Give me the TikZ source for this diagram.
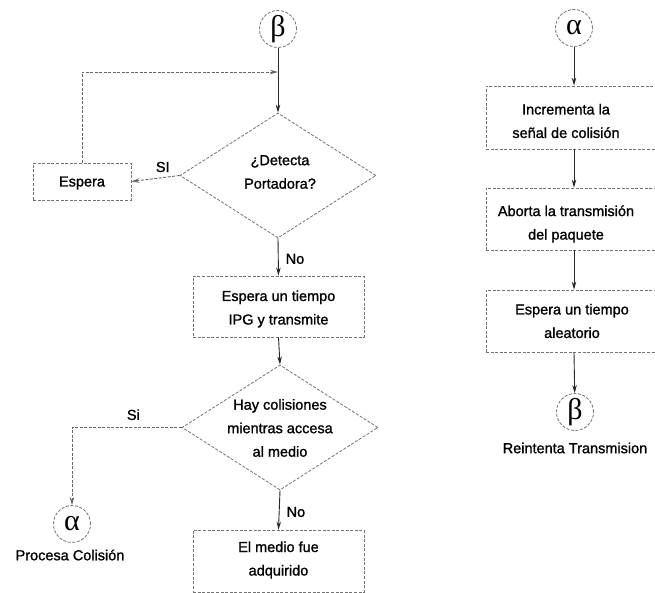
\documentclass[tikz,border=0pt]{standalone}
\usepackage{fontspec}
\setmainfont{Liberation Sans}[FakeBold=1.2]
\newfontfamily\greekfont{Liberation Serif}
\usetikzlibrary{shapes.geometric,arrows.meta}

\tikzset{
  outline/.style={draw=black!55, line width=0.8pt, dash pattern=on 3pt off 1.6pt},
  procbox/.style={outline, rectangle, inner sep=0pt, align=center},
  decision/.style={outline, diamond, inner sep=0pt},
  connector/.style={outline, circle, minimum size=37pt, inner sep=0pt,
    font=\greekfont\fontsize{30}{30}\selectfont},
  txt/.style={font=\fontsize{14.5}{23.5}\selectfont, align=center, inner sep=0pt},
  flow/.style={draw=black!85, line width=0.9pt,
    -{Stealth[length=8pt,width=4.5pt]}},
  flowh/.style={flow, draw=black!60, dash pattern=on 3pt off 1.5pt},
  lbl/.style={font=\fontsize{14.5}{16}\selectfont, inner sep=0pt}
}

\begin{document}
\begin{tikzpicture}[x=1pt, y=-1pt]
  \useasboundingbox (0,0) rectangle (655,593);
  \clip (0,0) rectangle (655,593);

  % ---------- left flow: carrier sensing and transmission ----------
  \node[connector] (beta1) at (278,29) {β};
  \coordinate (join) at (278,72);

  \node[decision, minimum width=196pt, minimum height=125pt] (d1) at (278,175.5) {};
  \node[txt] (d1txt) at (280,172) {¿Detecta\\Portadora?};

  \node[procbox, minimum width=98pt, minimum height=37pt] (espera) at (82,181.5) {};
  \node[txt] (esperatxt) at (82,183) {Espera};

  \node[procbox, minimum width=171pt, minimum height=61pt] (tx) at (278.5,306.5) {};
  \node[txt] (txtxt) at (278.5,309) {Espera un tiempo\\IPG y transmite};

  \node[decision, minimum width=196pt, minimum height=125pt] (d2) at (280,427.5) {};
  \node[txt] (d2txt) at (280,428) {Hay colisiones\\mientras accesa\\al medio};

  \node[procbox, minimum width=171pt, minimum height=62pt] (ok) at (278.5,561) {};
  \node[txt] (oktxt) at (278.5,560) {El medio fue\\adquirido};

  \node[connector] (alpha1) at (72,524) {α};
  \node[lbl] (alpha1txt) at (70,555) {Procesa Colisión};

  % connectors of the left flow
  \draw[flow] (beta1) -- (d1.north);
  \draw[flowh] (espera.north) |- (join);
  \draw[flowh] (d1.west) -- (espera.east)
    node[lbl, pos=0.35, above=5pt] (si1) {SI};
  \draw[flow] (d1.south) -- (tx.north)
    node[lbl, pos=0.55, right=7pt] (no1) {No};
  \draw[flow] (tx.south) -- (d2.north);
  \draw[flowh] (d2.west) -| (alpha1.north)
    node[lbl, pos=0.22, above=7pt] (si2) {Si};
  \draw[flow] (d2.south) -- (ok.north)
    node[lbl, pos=0.55, right=7pt] (no2) {No};

  % ---------- right flow: collision handling ----------
  \node[connector] (alpha2) at (574,28) {α};

  \node[procbox, minimum width=174pt, minimum height=63pt] (inc) at (573,117.5) {};
  \node[txt] (inctxt) at (566,121) {Incrementa la\\señal de colisión};

  \node[procbox, minimum width=174pt, minimum height=62pt] (abort) at (573,219) {};
  \node[txt] (aborttxt) at (566,224) {Aborta la transmisión\\del paquete};

  \node[procbox, minimum width=174pt, minimum height=62pt] (wait) at (573,321) {};
  \node[txt] (waittxt) at (572,321) {Espera un tiempo\\aleatorio};

  \node[connector] (beta2) at (575,412) {β};
  \node[lbl] (beta2txt) at (575,448) {Reintenta Transmision};

  \draw[flow] (alpha2) -- (alpha2 |- inc.north);
  \draw[flow] (alpha2 |- inc.south) -- (alpha2 |- abort.north);
  \draw[flow] (alpha2 |- abort.south) -- (alpha2 |- wait.north);
  \draw[flow] (alpha2 |- wait.south) -- (beta2);
\end{tikzpicture}
\end{document}
